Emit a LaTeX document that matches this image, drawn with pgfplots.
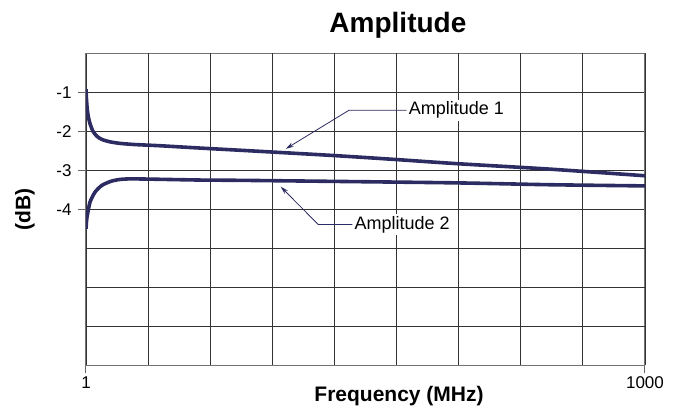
\documentclass[border=0pt]{standalone}
\usepackage{pgfplots}
\pgfplotsset{compat=1.18}
\usepackage{fontspec}
\setmainfont{Liberation Sans}
\usetikzlibrary{arrows.meta}
\definecolor{navy}{RGB}{44,44,98}

\begin{document}
\begin{tikzpicture}
  \begin{axis}[
      at={(0,0)}, anchor=south west,
      scale only axis,
      width=559pt, height=312pt,
      xmin=1, xmax=1000,
      ymin=-8, ymax=0,
      xtick={1,1000}, xticklabels={1,1000},
      ytick={-4,-3,-2,-1}, yticklabels={-4,-3,-2,-1},
      extra x ticks={112,223,334,445,556,667,778,889},
      extra x tick labels={},
      extra y ticks={-7,-6,-5},
      extra y tick labels={},
      extra tick style={major tick length=0pt, grid=major},
      grid=major,
      major grid style={black!80, line width=0.9pt},
      axis line style={black!55, line width=1pt},
      tick style={black!60, line width=1pt},
      tick align=outside,
      major tick length=8pt,
      xtick pos=bottom, ytick pos=left,
      tick label style={font=\fontsize{17}{20}\selectfont},
      yticklabel style={xshift=-3pt},
      /pgf/number format/assume math mode=true,
      title={Amplitude},
      title style={font=\bfseries\fontsize{28}{32}\selectfont,
        at={(0.558,1)}, anchor=base, yshift=15pt},
      xlabel={Frequency (MHz)},
      xlabel style={font=\bfseries\fontsize{21}{24}\selectfont,
        at={(0.56,0)}, anchor=base, yshift=-36pt},
      ylabel={(dB)},
      ylabel style={font=\bfseries\fontsize{21}{24}\selectfont,
        at={(0,0.5)}, anchor=center, yshift=61pt},
    ]
    % Amplitude 1
    \addplot[navy, line width=3.6pt, smooth, tension=0.4] coordinates {
        (1,-0.92) (1.9,-1.19) (3.3,-1.44) (5.1,-1.62) (8.1,-1.80)
        (13.5,-2.00) (20.7,-2.13) (29.6,-2.21) (43.9,-2.27) (61.8,-2.31)
        (88.6,-2.34) (133,-2.37) (205,-2.43) (294,-2.50) (442,-2.62)
        (551,-2.72) (664,-2.83) (830,-2.97) (1000,-3.14)
      };
    % Amplitude 2
    \addplot[navy, line width=3.6pt, smooth, tension=0.4] coordinates {
        (1,-4.50) (2,-4.29) (3.3,-4.16) (8.1,-3.82) (17.1,-3.56)
        (29,-3.39) (44,-3.29) (58.7,-3.24) (85.5,-3.22) (205,-3.25)
        (294,-3.26) (651,-3.32) (830,-3.37) (1000,-3.40)
      };
    % callouts
    \draw[navy, line width=0.8pt, -{Stealth[length=8pt,width=4.5pt]}]
      (axis cs:574,-1.46) -- (axis cs:471,-1.46) -- (axis cs:358,-2.45);
    \node[fill=white, inner sep=2pt, anchor=west,
      font=\fontsize{18}{20}\selectfont] at (axis cs:574,-1.46) {Amplitude 1};
    \draw[navy, line width=0.8pt, -{Stealth[length=8pt,width=4.5pt]}]
      (axis cs:477,-4.39) -- (axis cs:416,-4.39) -- (axis cs:349,-3.42);
    \node[fill=white, inner sep=2pt, anchor=west,
      font=\fontsize{18}{20}\selectfont] at (axis cs:477,-4.39) {Amplitude 2};
  \end{axis}
  \pgfresetboundingbox
  \useasboundingbox (-86pt,-46.7pt) rectangle (595pt,365.3pt);
\end{tikzpicture}
\end{document}
